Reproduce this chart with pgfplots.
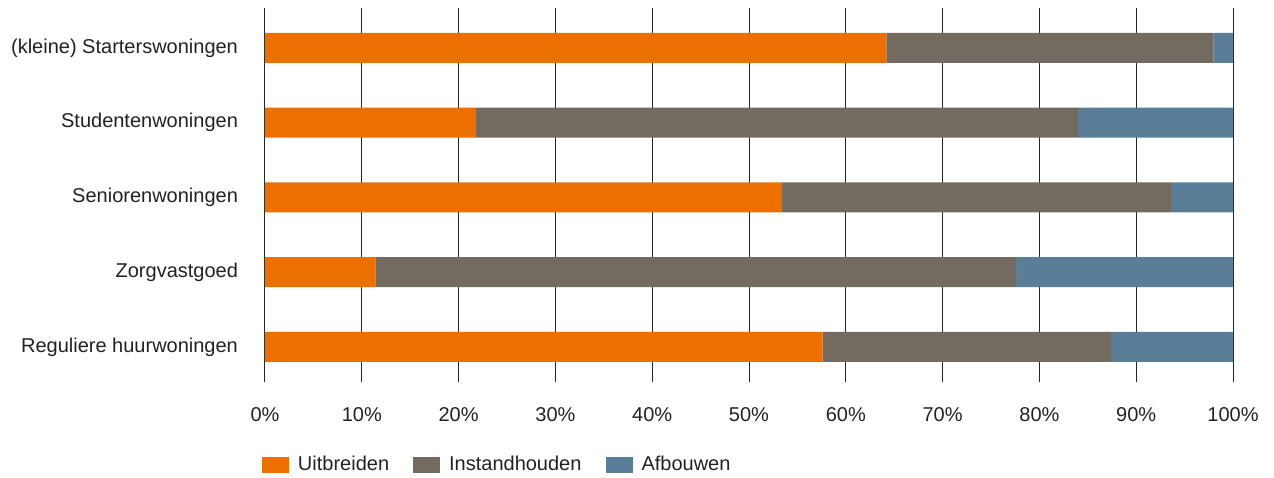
\documentclass[border=0pt]{standalone}
\usepackage{pgfplots}
\pgfplotsset{compat=1.18}
\usepackage{fontspec}
\setmainfont{Liberation Sans}
\definecolor{cOrange}{RGB}{236,112,0}
\definecolor{cGrey}{RGB}{115,106,96}
\definecolor{cBlue}{RGB}{90,126,151}
\definecolor{txt}{RGB}{34,34,34}
\begin{document}
\begin{tikzpicture}
\begin{axis}[
  at={(0,0)}, anchor=south west,
  scale only axis, width=484pt, height=187pt,
  xbar stacked, bar width=15pt,
  xmin=0, xmax=100, ymin=-0.47, ymax=4.535,
  enlargelimits=false,
  xtick={0,10,...,100}, ytick={0,1,2,3,4},
  yticklabels={Reguliere huurwoningen, Zorgvastgoed, Seniorenwoningen, Studentenwoningen, (kleine) Starterswoningen},
  xticklabel={\pgfmathprintnumber{\tick}\%},
  /pgf/number format/assume math mode=true,
  xmajorgrids, major grid style={black!85, line width=0.5pt},
  axis line style={draw=none},
  major tick length=0pt,
  tick label style={font=\fontsize{10}{12}\selectfont, text=txt},
  xticklabel style={yshift=-9pt},
  yticklabel style={xshift=-10pt},
  legend columns=3,
  legend style={at={(-0.0031,-0.222)}, anchor=west, draw=none, fill=none,
    inner sep=0pt, outer sep=0pt, font=\fontsize{10}{12}\selectfont, text=txt,
    /tikz/every odd column/.append style={column sep=2.5pt},
    /tikz/every even column/.append style={column sep=10pt}},
  legend cell align=left,
  legend image code/.code={\fill[#1] (0pt,-4pt) rectangle (13.5pt,4pt);},
]
\addplot[fill=cOrange, draw=none] coordinates {(57.6,0) (11.4,1) (53.4,2) (21.8,3) (64.2,4)};
\addlegendentry{Uitbreiden}
\addplot[fill=cGrey, draw=none] coordinates {(29.8,0) (66.2,1) (40.2,2) (62.2,3) (33.8,4)};
\addlegendentry{Instandhouden}
\addplot[fill=cBlue, draw=none] coordinates {(12.6,0) (22.4,1) (6.4,2) (16.0,3) (2.0,4)};
\addlegendentry{Afbouwen}
\end{axis}
\path (-132.5pt,-47pt) rectangle (504.5pt,191pt);
\end{tikzpicture}
\end{document}
